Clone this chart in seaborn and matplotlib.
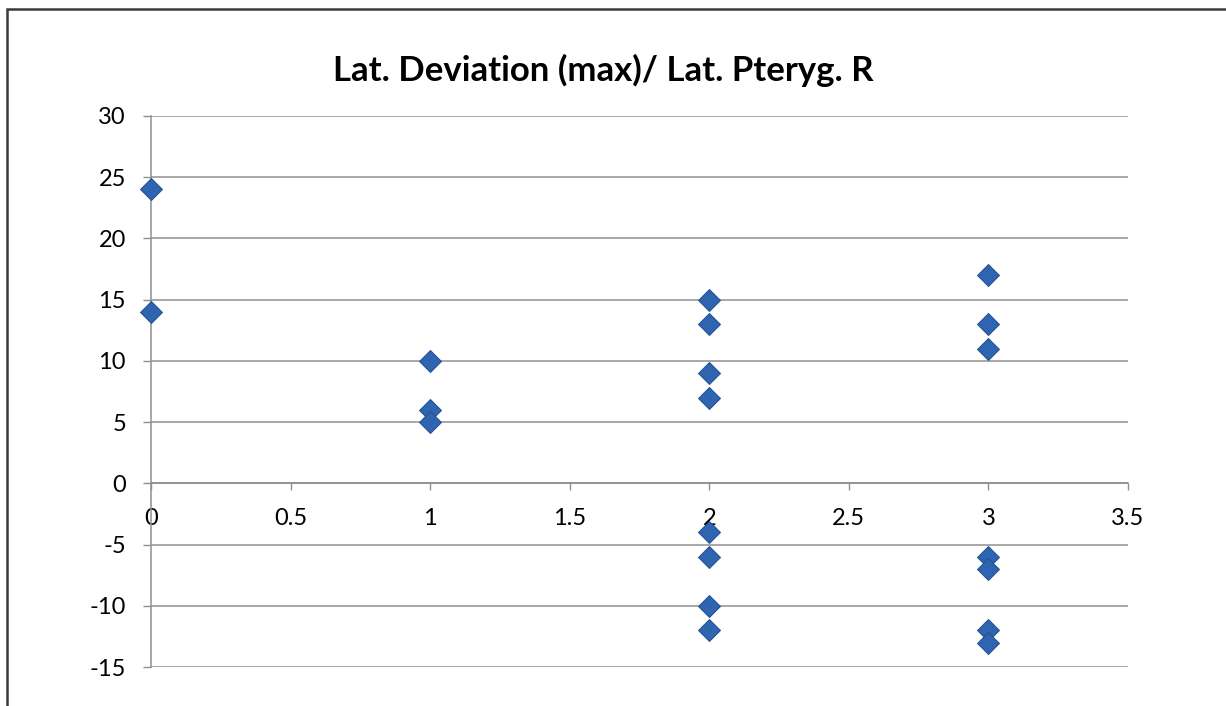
import matplotlib
matplotlib.use("Agg")
import matplotlib.pyplot as plt
import seaborn as sns
import pandas as pd
from matplotlib.patches import Rectangle

# Data
x_values = [0, 0,
            1, 1, 1,
            2, 2, 2, 2, 2, 2, 2, 2,
            3, 3, 3, 3, 3, 3, 3]
y_values = [24, 14,
            10, 6, 5,
            15, 13, 9, 7, -4, -6, -10, -12,
            17, 13, 11, -6, -7, -12, -13]
x_ticks = [0, 0.5, 1, 1.5, 2, 2.5, 3, 3.5]
x_tick_labels = ["0", "0.5", "1", "1.5", "2", "2.5", "3", "3.5"]
y_ticks = [-15, -10, -5, 0, 5, 10, 15, 20, 25, 30]
y_tick_labels = ["-15", "-10", "-5", "0", "5", "10", "15", "20", "25", "30"]
title = "Lat. Deviation (max)/ Lat. Pteryg. R"

df = pd.DataFrame({"x": x_values, "y": y_values})

sns.set_theme(style="white")
plt.rcParams["font.family"] = ["Lato", "DejaVu Sans"]
plt.rcParams["axes.unicode_minus"] = False

fig = plt.figure(figsize=(12.26, 7.06), dpi=100)
ax = fig.add_axes([151 / 1226, 39 / 706, (1128 - 151) / 1226, (667 - 116) / 706])

grid_color = "#8f8f8f"
for yv in y_ticks:
    ax.axhline(yv, color=grid_color, lw=1.1, zorder=0)

sns.scatterplot(data=df, x="x", y="y", ax=ax, marker="D", s=125,
                color="#2f64b1", edgecolor="#22508f", linewidth=0.7,
                zorder=5, legend=False, clip_on=False)

ax.set_xlim(0, 3.5)
ax.set_ylim(-15, 30)
ax.set_xticks(x_ticks)
ax.set_xticklabels(x_tick_labels)
ax.set_yticks(y_ticks)
ax.set_yticklabels(y_tick_labels)
ax.set_xlabel("")
ax.set_ylabel("")

for s in ["top", "right"]:
    ax.spines[s].set_visible(False)
ax.spines["bottom"].set_position(("data", 0))
ax.spines["bottom"].set_color(grid_color)
ax.spines["bottom"].set_linewidth(1.1)
ax.spines["left"].set_color(grid_color)
ax.spines["left"].set_linewidth(1.1)

ax.tick_params(axis="x", direction="out", length=5, width=1, color=grid_color,
               pad=13, labelsize=17, labelcolor="black", bottom=True)
ax.tick_params(axis="y", direction="out", length=6, width=1, color=grid_color,
               pad=12, labelsize=17, labelcolor="black", left=True)

fig.text(603 / 1226, 1 - 70 / 706, title, ha="center", va="center",
         fontsize=25, fontweight="bold", color="black")

frame = Rectangle((7 / 1226, -0.05), 1.2, 1 - 9 / 706 + 0.05,
                  transform=fig.transFigure, fill=False,
                  edgecolor="#3a3a3a", linewidth=1.8, clip_on=False)
fig.patches.append(frame)

fig.savefig("out.png", dpi=100)
